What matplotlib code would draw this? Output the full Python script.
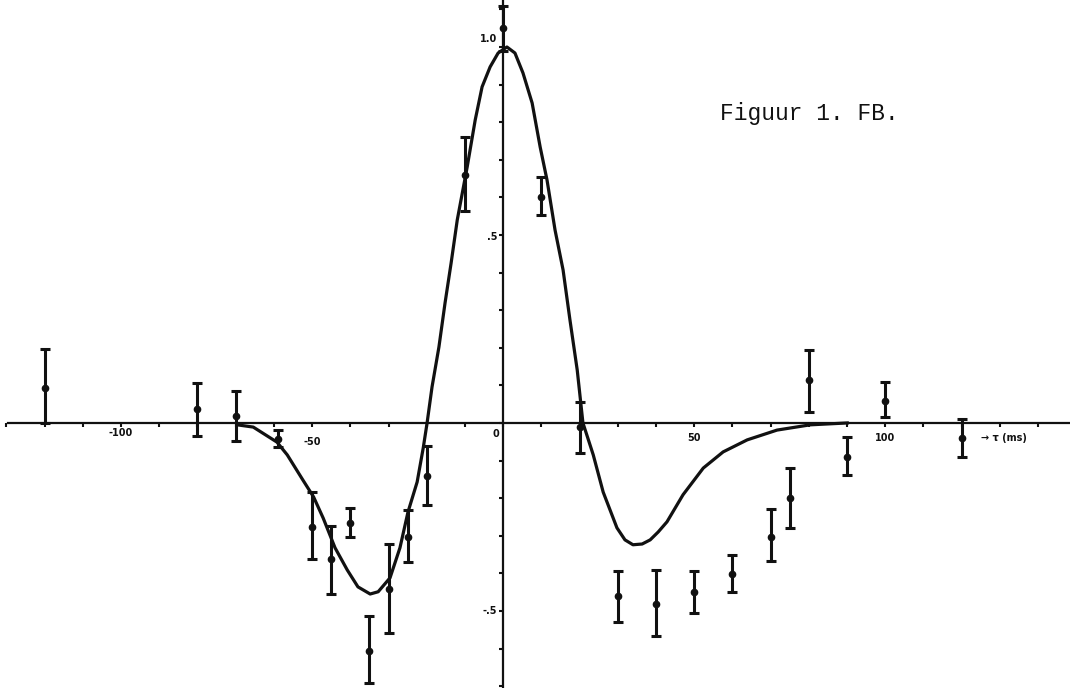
import numpy as np
import matplotlib
matplotlib.use("Agg")
import matplotlib.pyplot as plt

# measured points with error bars (tau in ms, correlation)
pt_x = [-120, -80, -70, -59, -50, -45, -40, -35, -30, -25, -20, -10, 0, 10, 20,
        30, 40, 50, 60, 70, 75, 80, 90, 100, 120]
pt_y = [0.093, 0.037, 0.019, -0.042, -0.277, -0.362, -0.266, -0.606, -0.441, -0.303, -0.141, 0.660, 1.05, 0.601, -0.01,
        -0.460, -0.481, -0.449, -0.402, -0.303, -0.200, 0.114, -0.090, 0.059, -0.040]
pt_lo = [0.0, -0.035, -0.048, -0.064, -0.362, -0.455, -0.303, -0.691, -0.559, -0.370, -0.218, 0.564, 0.99, 0.553, -0.08,
         -0.529, -0.566, -0.505, -0.449, -0.367, -0.279, 0.029, -0.138, 0.016, -0.090]
pt_hi = [0.197, 0.106, 0.085, -0.019, -0.184, -0.274, -0.226, -0.513, -0.322, -0.231, -0.061, 0.761, 1.11, 0.654, 0.056,
         -0.394, -0.391, -0.394, -0.351, -0.229, -0.120, 0.194, -0.037, 0.109, 0.011]

# hand drawn model curve
cv_x = [-69.6, -65.4, -59.2, -56.5, -52.4, -49.6, -47.1, -44.0, -40.8, -38.0, -34.8, -32.7, -29.6, -27.0,
        -24.9, -22.5, -20.9, -19.9, -18.6, -16.8, -15.2, -13.6, -12.0, -9.4, -7.3, -5.5, -3.4, -1.3, 1.0,
        3.1, 5.2, 7.6, 9.7, 11.5, 13.6, 15.7, 17.5, 19.4, 20.9, 23.6, 26.2, 29.8, 31.9, 34.0, 36.4, 38.5,
        40.6, 42.9, 47.1, 52.4, 57.6, 63.9, 71.7, 80.4, 90.1]
cv_y = [-0.005, -0.011, -0.051, -0.085, -0.152, -0.197, -0.253, -0.332, -0.391, -0.436, -0.455, -0.449,
        -0.412, -0.332, -0.237, -0.157, -0.066, 0.0, 0.096, 0.202, 0.319, 0.426, 0.540, 0.681, 0.806, 0.894,
        0.947, 0.984, 1.0, 0.984, 0.931, 0.851, 0.734, 0.646, 0.513, 0.407, 0.274, 0.141, 0.0, -0.085,
        -0.184, -0.279, -0.311, -0.324, -0.322, -0.311, -0.290, -0.263, -0.191, -0.120, -0.077, -0.045,
        -0.019, -0.005, 0.0]

INK = "#111111"
fig = plt.figure(figsize=(10.7, 6.88), dpi=100)
ax = fig.add_axes([0, 0, 1, 1])
ax.set_xlim(-131.7, 148.4)
ax.set_ylim(-0.705, 1.125)

for s in ["top", "right"]:
    ax.spines[s].set_visible(False)
ax.spines["left"].set_position(("data", 0))
ax.spines["bottom"].set_position(("data", 0))
ax.spines["bottom"].set_bounds(-129.6, 148.4)
for s in ["left", "bottom"]:
    ax.spines[s].set_linewidth(1.6)
    ax.spines[s].set_color(INK)

ax.set_xticks(np.arange(-130, 141, 10))
ax.set_yticks(np.arange(-0.7, 1.11, 0.1))
ax.tick_params(axis="both", direction="out", length=3, width=1.5, color=INK,
               labelbottom=False, labelleft=False)

ax.plot(cv_x, cv_y, color=INK, lw=2.3, solid_joinstyle="round", zorder=3)

yerr = [np.array(pt_y) - np.array(pt_lo), np.array(pt_hi) - np.array(pt_y)]
ax.errorbar(pt_x, pt_y, yerr=yerr, fmt="o", ms=4.5, color=INK, ecolor=INK,
            elinewidth=2.2, capsize=3.5, capthick=2.2, zorder=4)

lab = dict(fontsize=7, fontweight="bold", color=INK)
ax.text(-100, -0.028, "-100", ha="center", va="center", **lab)
ax.text(-50, -0.05, "-50", ha="center", va="center", **lab)
ax.text(-2, -0.03, "0", ha="center", va="center", **lab)
ax.text(50, -0.04, "50", ha="center", va="center", **lab)
ax.text(100, -0.04, "100", ha="center", va="center", **lab)
ax.text(131, -0.04, "→ τ (ms)", ha="center", va="center", **lab)
ax.text(-1.5, 1.021, "1.0", ha="right", va="center", **lab)
ax.text(-1.5, 0.495, ".5", ha="right", va="center", **lab)
ax.text(-1.5, -0.5, "-.5", ha="right", va="center", **lab)

ax.text(56.8, 0.824, "Figuur 1. FB.", family="Liberation Mono", fontsize=16.5,
        color=INK, ha="left", va="center")

fig.savefig("out.png", dpi=100)
